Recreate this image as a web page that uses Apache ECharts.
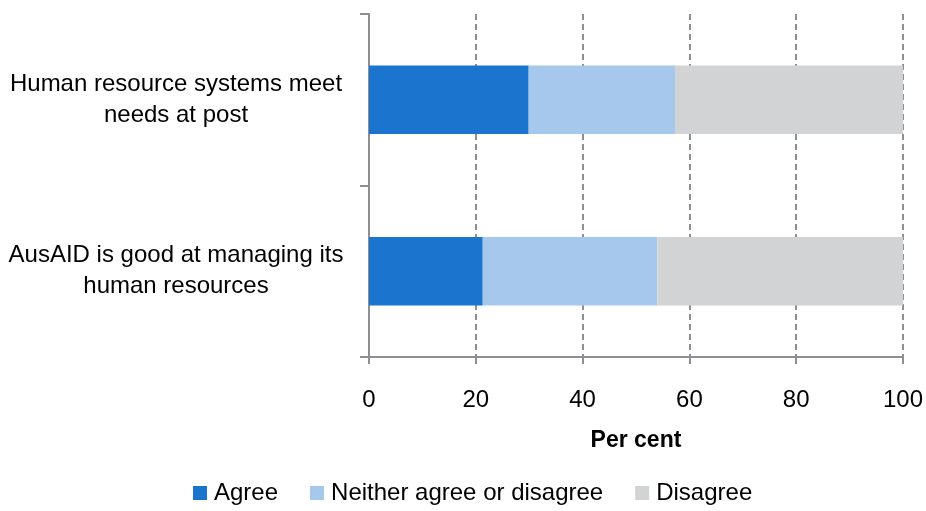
<!DOCTYPE html>
<html>
<head>
<meta charset="utf-8">
<script src="https://cdn.jsdelivr.net/npm/echarts@6/dist/echarts.min.js"></script>
<style>
  html, body { margin: 0; padding: 0; background: #fff; }
  #chart { width: 926px; height: 511px; }
</style>
</head>
<body>
<div id="chart"></div>
<script>
// Survey statements (bottom to top on the category axis)
const categories = [
  'AusAID is good at managing its\nhuman resources',
  'Human resource systems meet\nneeds at post'
];
const agree = [21.3, 29.9];
const neither = [32.7, 27.4];
const disagree = [46.0, 42.7];
const xTicks = { min: 0, max: 100, interval: 20 };

const FONT = '"Liberation Sans Narrow", "Liberation Sans", sans-serif';
const AXIS_GREY = '#8e8e93';

const chart = echarts.init(document.getElementById('chart'));

function barSeries(name, data, color) {
  return {
    name: name,
    type: 'bar',
    stack: 'total',
    barWidth: '40%',
    data: data,
    itemStyle: { color: color },
    emphasis: { disabled: true }
  };
}

chart.setOption({
  animation: false,
  textStyle: { fontFamily: FONT },
  grid: { left: 369, right: 22, top: 14, bottom: 154, containLabel: false },
  legend: {
    bottom: 6,
    left: 193,
    padding: 0,
    itemWidth: 14,
    itemHeight: 14,
    itemGap: 32,
    icon: 'rect',
    textStyle: { fontFamily: FONT, fontSize: 24, color: '#000', padding: [0, 0, 0, 2] },
    data: ['Agree', 'Neither agree or disagree', 'Disagree']
  },
  xAxis: {
    type: 'value',
    min: xTicks.min,
    max: xTicks.max,
    interval: xTicks.interval,
    name: 'Per cent',
    nameLocation: 'middle',
    nameGap: 72,
    nameTextStyle: { fontFamily: FONT, fontSize: 23, fontWeight: 'bold', color: '#000' },
    axisLine: { show: true, lineStyle: { color: AXIS_GREY, width: 2 } },
    axisTick: { show: true, length: 7, lineStyle: { color: AXIS_GREY, width: 2 } },
    axisLabel: { fontFamily: FONT, fontSize: 24, color: '#000', margin: 31 },
    splitLine: { show: true, lineStyle: { color: AXIS_GREY, width: 2, type: [6, 4] } }
  },
  yAxis: {
    type: 'category',
    data: categories,
    axisLine: { show: true, lineStyle: { color: AXIS_GREY, width: 2 } },
    axisTick: { show: true, length: 9, alignWithLabel: false, lineStyle: { color: AXIS_GREY, width: 2 } },
    axisLabel: {
      fontFamily: FONT, fontSize: 24, color: '#000', margin: 193,
      align: 'center', lineHeight: 31, overflow: 'none'
    },
    splitLine: { show: false }
  },
  series: [
    barSeries('Agree', agree, '#1b75cf'),
    barSeries('Neither agree or disagree', neither, '#a5c8ec'),
    barSeries('Disagree', disagree, '#d2d3d5')
  ]
});
</script>
</body>
</html>
